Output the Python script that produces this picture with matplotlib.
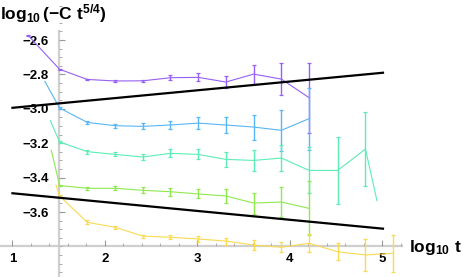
import matplotlib
matplotlib.use("Agg")
import matplotlib.pyplot as plt
from matplotlib.ticker import MultipleLocator, FixedLocator

plt.rcParams["font.family"] = "Liberation Sans"
plt.rcParams["font.weight"] = "bold"
plt.rcParams["mathtext.fontset"] = "custom"
plt.rcParams["mathtext.rm"] = "Liberation Sans:bold"
plt.rcParams["mathtext.it"] = "Liberation Sans:bold:italic"
plt.rcParams["mathtext.bf"] = "Liberation Sans:bold"

# log10 t positions
purple_x = [1.17, 1.51, 1.81, 2.11, 2.41, 2.71, 3.01, 3.31, 3.61, 3.91, 4.21]
purple_y = [-2.573, -2.770, -2.829, -2.838, -2.837, -2.819, -2.817, -2.844, -2.798, -2.827, -2.935]
purple_err = [0.004, 0.003, 0.005, 0.005, 0.007, 0.013, 0.023, 0.033, 0.055, 0.093, 0.203]

blue_x = [1.35, 1.51, 1.81, 2.11, 2.41, 2.71, 3.01, 3.31, 3.61, 3.91, 4.21]
blue_y = [-2.84, -2.995, -3.079, -3.098, -3.102, -3.094, -3.083, -3.094, -3.106, -3.125, -3.057]
blue_err = [0, 0.004, 0.009, 0.012, 0.017, 0.026, 0.033, 0.048, 0.073, 0.12, 0.18]

cyan_x = [1.41, 1.51, 1.81, 2.11, 2.41, 2.71, 3.01, 3.31, 3.61, 3.91, 4.21, 4.52, 4.82, 4.945]
cyan_y = [-3.069, -3.193, -3.249, -3.265, -3.280, -3.259, -3.265, -3.294, -3.300, -3.286,
          -3.358, -3.358, -3.234, -3.534]
cyan_err = [0, 0.004, 0.011, 0.012, 0.017, 0.023, 0.029, 0.042, 0.06, 0.073, 0.134, 0.196, 0.216, 0]

green_x = [1.42, 1.51, 1.81, 2.11, 2.41, 2.71, 3.01, 3.31, 3.61, 3.91, 4.21]
green_y = [-3.24, -3.446, -3.462, -3.462, -3.474, -3.482, -3.495, -3.507, -3.548, -3.542, -3.579]
green_err = [0, 0.004, 0.009, 0.012, 0.017, 0.023, 0.026, 0.039, 0.061, 0.087, 0.157]

yellow_x = [1.47, 1.51, 1.81, 2.11, 2.41, 2.71, 3.01, 3.31, 3.61, 3.91, 4.21, 4.52, 4.82, 5.12]
yellow_y = [-3.443, -3.507, -3.660, -3.689, -3.740, -3.747, -3.757, -3.769, -3.792, -3.805,
            -3.782, -3.831, -3.850, -3.840]
yellow_err = [0, 0.004, 0.012, 0.009, 0.009, 0.012, 0.015, 0.02, 0.029, 0.029, 0.052, 0.048, 0.091, 0.109]

# the two black guide lines
guide_x = [1.0, 5.01]
upper_y = [-2.994, -2.790]
lower_y = [-3.491, -3.697]

series = [
    (purple_x, purple_y, purple_err, "#9560F5"),
    (blue_x, blue_y, blue_err, "#58B6F7"),
    (cyan_x, cyan_y, cyan_err, "#5CEDB6"),
    (green_x, green_y, green_err, "#8FE84E"),
    (yellow_x, yellow_y, yellow_err, "#F9DA52"),
]

fig = plt.figure(figsize=(4.63, 2.77), dpi=100)
ax = fig.add_axes([0, 0, 1, 1])
ax.set_xlim(0.865, 5.876)
ax.set_ylim(-3.978, -2.367)

for xs, ys, errs, col in series:
    ax.plot(xs, ys, color=col, lw=0.8, zorder=3)
    ex = [x for x, e in zip(xs, errs) if e > 0]
    ey = [y for y, e in zip(ys, errs) if e > 0]
    ee = [e for e in errs if e > 0]
    ax.errorbar(ex, ey, yerr=ee, fmt="none", ecolor=col, elinewidth=1.0,
                capsize=1.6, capthick=0.9, zorder=3)

ax.plot(guide_x, upper_y, color="black", lw=1.6, zorder=4)
ax.plot(guide_x, lower_y, color="black", lw=1.6, zorder=4)

# Mathematica-style crossing axes
for s in ["top", "right"]:
    ax.spines[s].set_visible(False)
ax.spines["left"].set_position(("data", 1.5))
ax.spines["bottom"].set_position(("data", -3.8))
ax.spines["left"].set_bounds(-3.98, -2.55)
ax.spines["bottom"].set_bounds(0.865, 5.22)
for s in ["left", "bottom"]:
    ax.spines[s].set_color("#CFCFCF")
    ax.spines[s].set_linewidth(1.6)
    ax.spines[s].set_zorder(1)

ax.set_xticks([1, 2, 3, 4, 5])
ax.set_xticklabels(["1", "2", "3", "4", "5"])
ax.xaxis.set_minor_locator(FixedLocator([1 + 0.2 * i for i in range(22)]))
ax.set_yticks([-3.6, -3.4, -3.2, -3.0, -2.8, -2.6])
ax.set_yticklabels(["\u22123.6", "\u22123.4", "\u22123.2", "\u22123.0", "\u22122.8", "\u22122.6"])
ax.yaxis.set_minor_locator(MultipleLocator(0.05))
ax.tick_params(which="major", direction="in", length=4, width=0.8, color="#999999",
               labelsize=9.5, labelcolor="black")
ax.tick_params(which="minor", direction="in", length=2.5, width=0.7, color="#AAAAAA")
ax.tick_params(axis="x", which="major", pad=5)
ax.tick_params(axis="y", which="major", pad=7)

fig.text(0.0, 1 - 19 / 277, r"$\mathrm{log}_{10}\,(-\mathrm{C}\ \mathrm{t}^{5/4})$",
         fontsize=12.5, ha="left", va="baseline")
fig.text(409 / 463, 1 - 252 / 277, r"$\mathrm{log}_{10}\ \mathrm{t}$",
         fontsize=12.5, ha="left", va="baseline")

fig.savefig("out.png", dpi=100)
